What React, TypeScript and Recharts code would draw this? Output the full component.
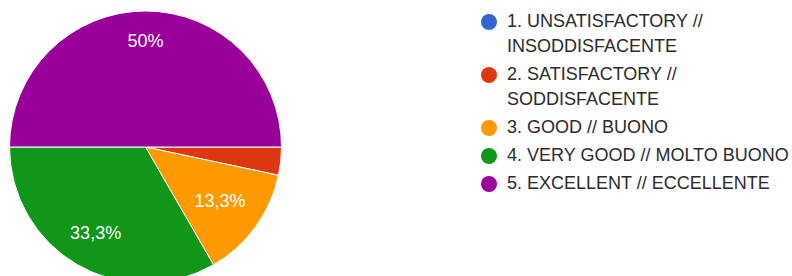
import { Cell, Legend, Pie, PieChart } from "recharts";

const categories = [
  "1. UNSATISFACTORY // INSODDISFACENTE",
  "2. SATISFACTORY // SODDISFACENTE",
  "3. GOOD // BUONO",
  "4. VERY GOOD // MOLTO BUONO",
  "5. EXCELLENT // ECCELLENTE",
];
const responses = [0, 1, 4, 10, 15];
const colors = ["#3366cc", "#dc3912", "#ff9900", "#109618", "#990099"];

const data = categories.map((name, i) => ({ name, value: responses[i] }));

const RADIAN = Math.PI / 180;
const FONT = '"Liberation Sans", Arial, sans-serif';

function formatPct(p: number) {
  const s = (p * 100).toFixed(1).replace(".", ",");
  return (s.endsWith(",0") ? s.slice(0, -2) : s) + "%";
}

function renderLabel(props: any) {
  const { cx, cy, midAngle, outerRadius, percent } = props;
  if (percent < 0.05) return null;
  // bigger slices push their label further out, like the original
  const r = outerRadius * (0.64 + 0.28 * percent);
  const x = cx + r * Math.cos(-midAngle * RADIAN);
  const y = cy + r * Math.sin(-midAngle * RADIAN);
  return (
    <text
      x={x}
      y={y}
      fill="#ffffff"
      fontSize={18}
      fontFamily={FONT}
      textAnchor="middle"
      dominantBaseline="central"
    >
      {formatPct(percent)}
    </text>
  );
}

function renderLegend() {
  return (
    <div style={{ fontFamily: FONT, fontSize: 18, color: "#2a2a2a" }}>
      {categories.map((name, i) => (
        <div
          key={name}
          style={{ display: "flex", alignItems: "flex-start", marginBottom: 3 }}
        >
          <span
            style={{
              flex: "none",
              width: 16,
              height: 16,
              borderRadius: "50%",
              background: colors[i],
              marginTop: 4.5,
              marginRight: 10,
            }}
          />
          <span style={{ lineHeight: "25px", width: 292 }}>{name}</span>
        </div>
      ))}
    </div>
  );
}

export default function App() {
  return (
    <div style={{ width: 792, height: 276, background: "#ffffff" }}>
      <style>{`body{margin:0}`}</style>
      <PieChart width={792} height={276} margin={{ top: 0, right: 0, bottom: 0, left: 0 }}>
        <Pie
          data={data}
          dataKey="value"
          nameKey="name"
          cx={145.5}
          cy={147}
          outerRadius={136}
          startAngle={0}
          endAngle={-360}
          stroke="#ffffff"
          strokeWidth={1}
          label={renderLabel}
          labelLine={false}
          isAnimationActive={false}
        >
          {data.map((d, i) => (
            <Cell key={d.name} fill={colors[i]} />
          ))}
        </Pie>
        <Legend
          content={renderLegend}
          wrapperStyle={{ left: 481, top: 9, width: 311, bottom: "auto" }}
        />
      </PieChart>
    </div>
  );
}
